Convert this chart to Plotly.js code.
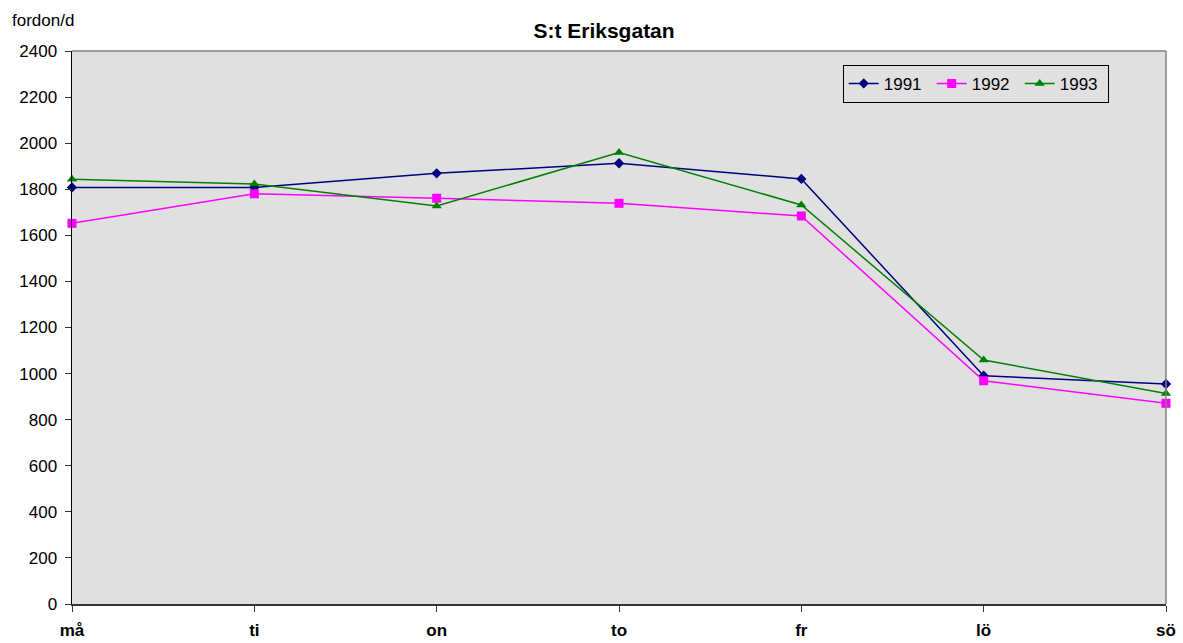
<!DOCTYPE html>
<html><head><meta charset="utf-8">
<script src="https://cdn.plot.ly/plotly-3.0.1.min.js"></script>
<style>html,body{margin:0;padding:0;background:#fff}#chart{width:1183px;height:643px}</style>
</head><body><div id="chart"></div>
<script>
const days = ["må","ti","on","to","fr","lö","sö"];
const v1991 = [1808, 1808, 1869, 1913, 1845, 991, 955];
const v1992 = [1652, 1780, 1761, 1739, 1684, 969, 871];
const v1993 = [1843, 1823, 1727, 1959, 1732, 1059, 914];
const yTicks = [0,200,400,600,800,1000,1200,1400,1600,1800,2000,2200,2400];

const common = {type:"scatter", mode:"lines+markers", x:days, cliponaxis:false};
const traces = [
  Object.assign({}, common, {name:"1991", y:v1991, line:{color:"#000080",width:1.5}, marker:{symbol:"diamond",size:8,color:"#000080"}}),
  Object.assign({}, common, {name:"1992", y:v1992, line:{color:"#ff00ff",width:1.5}, marker:{symbol:"square",size:9,color:"#ff00ff"}}),
  Object.assign({}, common, {name:"1993", y:v1993, line:{color:"#008000",width:1.5}, marker:{symbol:"triangle-up",size:9,color:"#008000"}})
];

const FONT = "Liberation Sans, Arial, sans-serif";
const layout = {
  width:1183, height:643,
  margin:{l:72, r:17, t:51, b:39},
  paper_bgcolor:"#ffffff", plot_bgcolor:"#e0e0e0",
  font:{family:FONT, size:17, color:"#000"},
  title:{text:"<b>S:t Eriksgatan</b>", x:0.5106, xanchor:"center", y:0.953, yanchor:"middle", font:{size:21, color:"#000"}},
  showlegend:true,
  legend:{orientation:"h", x:0.7045, xanchor:"left", y:0.975, yanchor:"top", bgcolor:"#e0e0e0", bordercolor:"#000", borderwidth:1, font:{size:17}, tracegroupgap:0, itemwidth:30, entrywidth:43, entrywidthmode:"pixels"},
  xaxis:{type:"category", range:[0,6], showgrid:false, zeroline:false, showline:true, linecolor:"#333", linewidth:1.5, ticks:"outside", ticklen:6, tickcolor:"#333", ticklabelstandoff:4, tickfont:{size:17, color:"#000", family:FONT, weight:"bold"}, fixedrange:true},
  yaxis:{range:[0,2400], tickvals:yTicks, ticktext:yTicks.map(String), showgrid:false, zeroline:false, showline:true, linecolor:"#000", linewidth:1.5, ticks:"outside", ticklen:6, tickcolor:"#333", ticklabelstandoff:4, tickfont:{size:17}, fixedrange:true},
  shapes:[
    {type:"line", xref:"paper", yref:"paper", x0:0, x1:1, y0:1, y1:1, line:{color:"#808080", width:1.5}},
    {type:"line", xref:"paper", yref:"paper", x0:1, x1:1, y0:0, y1:1, line:{color:"#808080", width:1.5}}
  ],
  annotations:[
    {text:"fordon/d", xref:"paper", yref:"paper", x:-0.057, xanchor:"left", y:1.055, yanchor:"middle", showarrow:false, font:{size:17}}
  ]
};
Plotly.newPlot("chart", traces, layout, {displayModeBar:false, staticPlot:true});
</script></body></html>
